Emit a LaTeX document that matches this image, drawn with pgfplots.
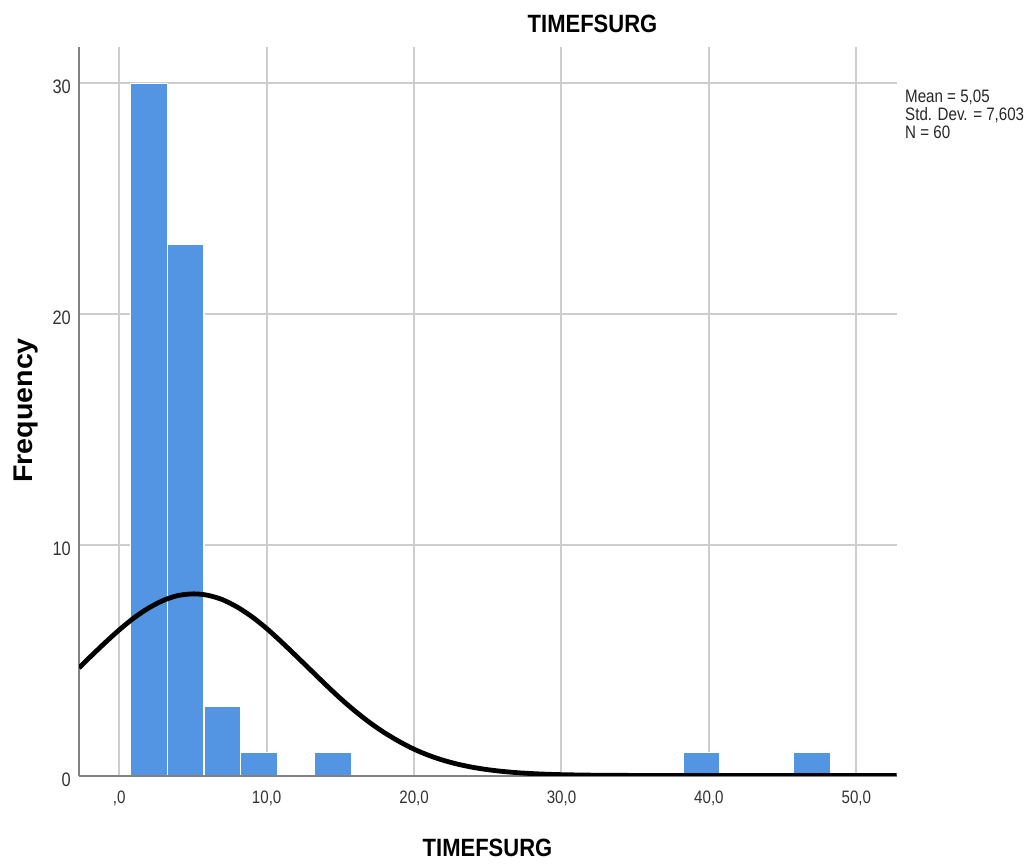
\documentclass[border=0pt]{standalone}
\usepackage{fontspec}
\usepackage{pgfplots}
\pgfplotsset{compat=1.18}
\newfontfamily\narrowfont{Liberation Sans}[FakeStretch=0.84]
\newfontfamily\titlefont{Liberation Sans}[FakeStretch=0.88]
\newfontfamily\ylabfont{Liberation Sans}[FakeStretch=1.06]
\definecolor{barblue}{RGB}{83,148,227}
\definecolor{gridgray}{RGB}{205,205,205}
\definecolor{axgray}{RGB}{130,130,130}
\begin{document}
\begin{tikzpicture}
\path[use as bounding box] (0,0) rectangle (1030pt,865pt);
\begin{axis}[
  scale only axis,
  width=817.7pt, height=728.8pt,
  at={(79pt,89.5pt)}, anchor=south west,
  xmin=-2.73, xmax=52.74,
  ymin=0, ymax=31.58,
  axis lines*=left,
  axis line style={draw=axgray, line width=2pt},
  grid=major,
  grid style={draw=gridgray, line width=2pt},
  major tick length=0pt,
  xtick={0,10,20,30,40,50},
  xticklabels={{,0},{10,0},{20,0},{30,0},{40,0},{50,0}},
  ytick={0,10,20,30},
  yticklabels={0,10,20,30},
  xticklabel style={font={\narrowfont\fontsize{18pt}{18pt}\selectfont}, text=black!80, anchor=north, inner sep=0pt, yshift=-15.5pt},
  yticklabel style={font={\narrowfont\fontsize{19.5pt}{19.5pt}\selectfont}, text=black!80, anchor=east, inner sep=0pt, xshift=-8pt, yshift=-4pt},
]
\addplot[ybar, bar width=2.5, fill=barblue, draw=white, line width=1.2pt]
  coordinates {(2.0,30) (4.5,23) (7.0,3) (9.5,1) (14.5,1) (39.5,1) (47.0,1)};
\addplot[axgray, line width=2pt, forget plot] coordinates {(-2.73,0) (52.74,0)};
\addplot[smooth, black, line width=4.8pt] coordinates {
(-2.73,4.66) (-2,5.12) (-1,5.73) (0,6.31) (1,6.83) (2,7.26) (3,7.59) (4,7.80)
(5.05,7.87) (6,7.81) (7,7.62) (8,7.30) (9,6.88) (10,6.37) (11,5.79) (12,5.18)
(13,4.56) (14,3.94) (15,3.34) (16,2.79) (17,2.29) (18,1.85) (19,1.47) (20,1.14)
(21,0.872) (22,0.656) (23,0.485) (24,0.352) (25,0.252) (26,0.177) (27,0.122)
(28,0.083) (29,0.055) (30,0.036) (32,0.015) (34,0.006) (36,0.002) (40,0.0002)
(46,0) (52.74,0)};
\end{axis}
\node[anchor=base, inner sep=0pt, font={\titlefont\bfseries\fontsize{25pt}{25pt}\selectfont}] at (592.5pt,832pt) {TIMEFSURG};
\node[anchor=base, inner sep=0pt, font={\titlefont\bfseries\fontsize{25pt}{25pt}\selectfont}] at (487.5pt,9pt) {TIMEFSURG};
\node[anchor=base, rotate=90, inner sep=0pt, font={\ylabfont\bfseries\fontsize{27pt}{27pt}\selectfont}] at (32.7pt,454.5pt) {Frequency};
\node[anchor=base west, inner sep=0pt, font={\narrowfont\fontsize{18pt}{18pt}\selectfont}, text=black!85] at (905pt,762.7pt) {Mean = 5,05};
\node[anchor=base west, inner sep=0pt, font={\narrowfont\fontsize{18pt}{18pt}\selectfont}, text=black!85] at (905pt,744.7pt) {Std. Dev. = 7,603};
\node[anchor=base west, inner sep=0pt, font={\narrowfont\fontsize{18pt}{18pt}\selectfont}, text=black!85] at (905pt,726.7pt) {N = 60};
\end{tikzpicture}
\end{document}
